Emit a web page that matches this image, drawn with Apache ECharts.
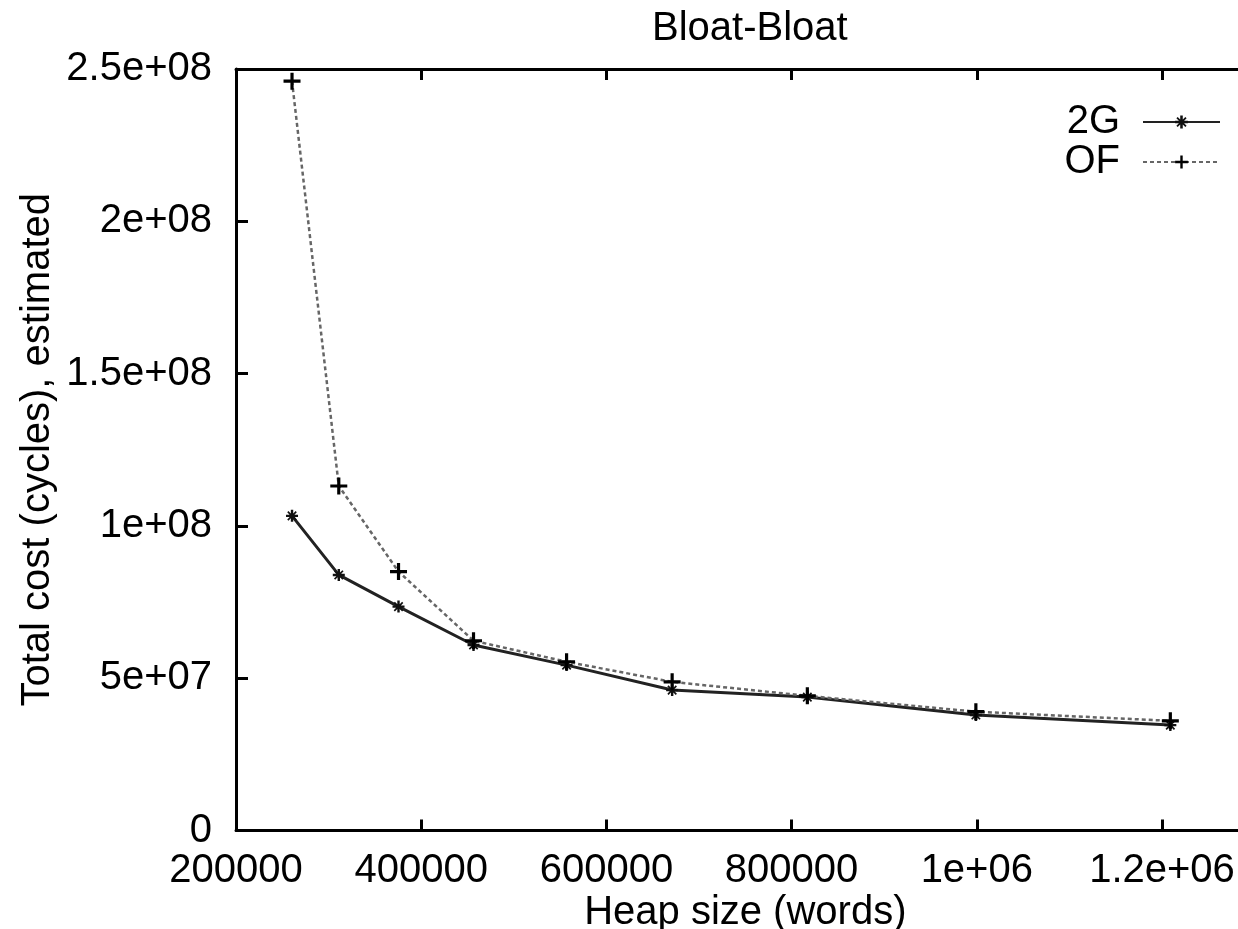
<!DOCTYPE html>
<html>
<head>
<meta charset="utf-8">
<script src="https://cdn.jsdelivr.net/npm/echarts@6/dist/echarts.min.js"></script>
<style>
html,body{margin:0;padding:0;overflow:hidden;background:#fff;}
#chart{width:1256px;height:929px;}
</style>
</head>
<body>
<div id="chart"></div>
<script>
// Data
const heapSizes = [260500, 311000, 375500, 456500, 557000, 671000, 817000, 999000, 1209000];
const cost2G = [1.033e8, 8.39e7, 7.35e7, 6.09e7, 5.43e7, 4.61e7, 4.38e7, 3.79e7, 3.46e7];
const costOF = [2.46e8, 1.131e8, 8.50e7, 6.23e7, 5.54e7, 4.88e7, 4.42e7, 3.90e7, 3.60e7];
const xTickValues = [200000, 400000, 600000, 800000, 1000000, 1200000];
const xTickLabels = ['200000', '400000', '600000', '800000', '1e+06', '1.2e+06'];
const yTickValues = [0, 5e7, 1e8, 1.5e8, 2e8, 2.5e8];
const yTickLabels = ['0', '5e+07', '1e+08', '1.5e+08', '2e+08', '2.5e+08'];

const FONT = 'Liberation Sans, Arial, sans-serif';
const fmt = (vals, labels) => v => {
  for (let i = 0; i < vals.length; i++) if (Math.abs(vals[i] - v) < 1e-6 * Math.max(1, Math.abs(v))) return labels[i];
  return '';
};
const plus = 'path://M6.5,0 h3 v6.5 h6.5 v3 h-6.5 v6.5 h-3 v-6.5 h-6.5 v-3 h6.5 z';
const star = 'path://M4,0 h2 v3 l2,-2 l1,1 l-2,2 h3 v2 h-3 l2,2 l-1,1 l-2,-2 v3 h-2 v-3 l-2,2 l-1,-1 l2,-2 h-3 v-2 h3 l-2,-2 l1,-1 l2,2 z';

const pairs = (xs, ys) => xs.map((x, i) => [x, ys[i]]);
const chart = echarts.init(document.getElementById('chart'), null, {renderer: 'canvas'});
chart.setOption({
  animation: false,
  backgroundColor: '#fff',
  title: {
    text: 'Bloat-Bloat',
    left: 647, top: 4,
    textStyle: {fontFamily: FONT, fontSize: 40, fontWeight: 'normal', color: '#000'}
  },
  legend: {
    orient: 'vertical',
    right: 30, top: 97,
    align: 'right',
    itemWidth: 77, itemHeight: 16,
    itemGap: 0,
    textStyle: {fontFamily: FONT, fontSize: 40, color: '#000', lineHeight: 40, padding: [0, 18, 0, 0]},
    data: ['2G', 'OF']
  },
  grid: {left: 236, right: 1.4, top: 69, bottom: 98.5, outerBoundsMode: 'none', containLabel: false},
  xAxis: [{
    type: 'value', min: 200000, max: 1300000, interval: 200000,
    name: 'Heap size (words)', nameLocation: 'middle', nameGap: 62, nameMoveOverlap: false,
    nameTextStyle: {fontFamily: FONT, fontSize: 40, color: '#000'},
    axisLine: {show: true, lineStyle: {color: '#000', width: 3}},
    axisTick: {show: true, inside: true, length: 11, lineStyle: {color: '#000', width: 3}},
    axisLabel: {fontFamily: FONT, fontSize: 40, color: '#000', margin: 20, showMaxLabel: false,
      formatter: fmt(xTickValues, xTickLabels)},
    splitLine: {show: false}
  }, {
    type: 'value', position: 'top', min: 200000, max: 1300000, interval: 200000,
    axisLine: {show: true, lineStyle: {color: '#000', width: 3}},
    axisTick: {show: true, inside: true, length: 11, lineStyle: {color: '#000', width: 3}},
    axisLabel: {show: false},
    splitLine: {show: false}
  }],
  yAxis: [{
    type: 'value', min: 0, max: 2.5e8, interval: 5e7,
    name: 'Total cost (cycles), estimated', nameLocation: 'middle', nameGap: 178, nameMoveOverlap: false,
    nameTextStyle: {fontFamily: FONT, fontSize: 40, color: '#000'},
    axisLine: {show: true, lineStyle: {color: '#000', width: 3}},
    axisTick: {show: true, inside: true, length: 12, lineStyle: {color: '#000', width: 3}},
    axisLabel: {fontFamily: FONT, fontSize: 40, color: '#000', margin: 24,
      formatter: fmt(yTickValues, yTickLabels)},
    splitLine: {show: false}
  }],
  series: [{
    name: '2G', type: 'line',
    data: pairs(heapSizes, cost2G),
    symbol: star, symbolSize: 12,
    itemStyle: {color: '#111'},
    lineStyle: {color: '#222', width: 3, type: 'solid'}
  }, {
    name: 'OF', type: 'line',
    data: pairs(heapSizes, costOF),
    symbol: plus, symbolSize: 17,
    itemStyle: {color: '#000'},
    lineStyle: {color: '#666', width: 2.5, type: [4, 3]}
  }]
});
</script>
</body>
</html>
